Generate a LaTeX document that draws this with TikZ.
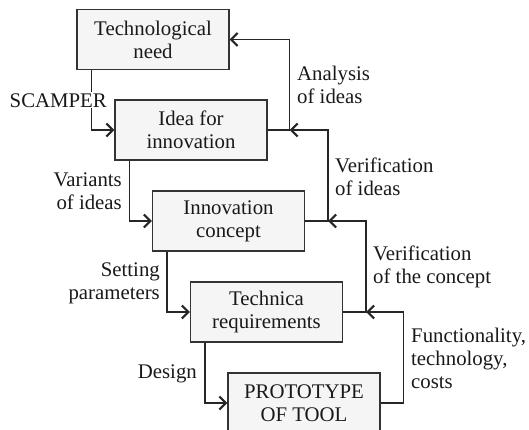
\documentclass[tikz,border=0pt]{standalone}
\usepackage{fontspec}
\setmainfont{Liberation Serif}
\usetikzlibrary{arrows.meta,calc}
\begin{document}
\begin{tikzpicture}[x=1pt,y=-1pt,
  box/.style={draw=black!80,fill=black!4,line width=1.1pt,minimum width=152pt,minimum height=60pt,inner sep=0pt,align=center,font=\fontsize{20.8}{23}\selectfont,text=black!90},
  lbl/.style={inner sep=0pt,font=\fontsize{20.8}{23}\selectfont,text=black!90},
  conn/.style={draw=black!85,line width=1.2pt,-{Straight Barb[length=6.5pt,width=13pt,line width=2.2pt]}}]
\useasboundingbox (0,0) rectangle (529,429);
\node[box] (b1) at (153,39.5) {Technological\\need};
\node[box] (b2) at (191,130) {Idea for\\innovation};
\node[box] (b3) at (228.5,221) {Innovation\\concept};
\node[box] (b4) at (266.5,312) {Technica\\requirements};
\node[box] (b5) at (304,403) {PROTOTYPE\\OF TOOL};
% forward connectors
\draw[conn] ([xshift=15pt]b1.south west) |- (b2.west);
\draw[conn] ([xshift=15pt]b2.south west) |- (b3.west);
\draw[conn] ([xshift=15pt]b3.south west) |- (b4.west);
\draw[conn] ([xshift=15pt]b4.south west) |- (b5.west);
% feedback connectors
\coordinate (f1) at ([xshift=22pt]b2.east);
\coordinate (f2) at ([xshift=23pt]b3.east);
\coordinate (f3) at ([xshift=23pt]b4.east);
\coordinate (f4) at ([xshift=23pt]b5.east);
\draw[conn] (b2.east) -- (f1) |- (b1.east);
\draw[conn] (b3.east) -- (f2) |- (f1);
\draw[conn] (b4.east) -- (f3) |- (f2);
\draw[conn] (b5.east) -- (f4) |- (f3);
% labels
\node[lbl,anchor=base east,fill=white,inner ysep=1pt] (l1) at (107,107) {SCAMPER};
\node[lbl,anchor=base east,align=right] (l2) at (122,209) {Variants\\of ideas};
\node[lbl,anchor=base east,align=right] (l3) at (160,299) {Setting\\parameters};
\node[lbl,anchor=base east] (l4) at (197,378) {Design};
\node[lbl,anchor=base west,align=left] (r1) at (297,103) {Analysis\\of ideas};
\node[lbl,anchor=base west,align=left] (r2) at (335,195) {Verification\\of ideas};
\node[lbl,anchor=base west,align=left] (r3) at (373,283) {Verification\\of the concept};
\node[lbl,anchor=base west,align=left] (r4) at (411,388) {Functionality,\\technology,\\costs};
\end{tikzpicture}
\end{document}
